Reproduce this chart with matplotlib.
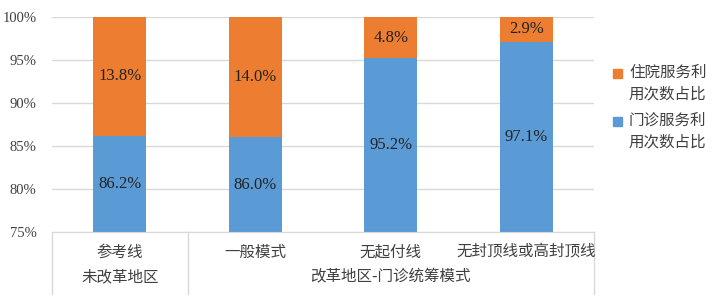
import matplotlib.pyplot as plt
import numpy as np
from matplotlib.patches import Rectangle
from matplotlib.transforms import blended_transform_factory

plt.rcParams["font.family"] = ["Liberation Serif", "Noto Sans CJK SC", "DejaVu Sans"]

categories = ["参考线", "一般模式", "无起付线", "无封顶线或高封顶线"]
groups = ["未改革地区", "改革地区-门诊统筹模式"]
group_sizes = [1, 3]
outpatient = [86.2, 86.0, 95.2, 97.1]
inpatient = [13.8, 14.0, 4.8, 2.9]
series_names = ["住院服务利\n用次数占比", "门诊服务利\n用次数占比"]
y_ticks = [75, 80, 85, 90, 95, 100]

BLUE = "#5B9BD5"
ORANGE = "#ED7D31"
GRID = "#D9D9D9"
TEXT = "#404040"
CJK = ["Noto Sans CJK SC", "DejaVu Sans"]
W, H = 728, 307

fig = plt.figure(figsize=(W / 100, H / 100), dpi=100)
ax = fig.add_axes([52 / W, 75 / H, 542 / W, 215 / H])

x = np.arange(len(categories))
ax.bar(x, outpatient, width=0.39, color=BLUE, zorder=2)
ax.bar(x, inpatient, width=0.39, color=ORANGE, bottom=outpatient, zorder=2)

ax.set_ylim(75, 100)
ax.set_xlim(-0.5, len(categories) - 0.5)
ax.set_yticks(y_ticks)
ax.set_yticklabels([f"{t}%" for t in y_ticks], fontsize=10.5, color=TEXT)
ax.tick_params(axis="y", length=0, pad=11)
ax.set_xticks([])
ax.grid(True, axis="y", color=GRID, linewidth=1, zorder=0)
for side in ("top", "right", "left"):
    ax.spines[side].set_visible(False)
ax.spines["bottom"].set_color(GRID)

# data labels, centred on the visible part of each segment
for i in x:
    ax.text(i, (75 + outpatient[i]) / 2, f"{outpatient[i]:.1f}%", ha="center",
            va="center", fontsize=12, color="#222222", zorder=3)
    top = outpatient[i] + inpatient[i]
    ax.text(i, (outpatient[i] + top) / 2, f"{inpatient[i]:.1f}%", ha="center",
            va="center", fontsize=12, color="#222222", zorder=3)

# two-level category axis
trans = blended_transform_factory(ax.transData, ax.transAxes)
axis_h = 215
for i, name in enumerate(categories):
    ax.text(i, -20 / axis_h, name, transform=trans, ha="center", va="center",
            fontsize=11.2, color=TEXT, family=CJK)
start = 0
bounds = [-0.5]
for g, n in zip(groups, group_sizes):
    center = start + (n - 1) / 2
    ax.text(center, -45 / axis_h, g, transform=trans, ha="center", va="center",
            fontsize=11.2, color=TEXT, family=CJK)
    start += n
    bounds.append(start - 0.5)
for b in bounds:
    ax.plot([b, b], [0, -62 / axis_h], transform=trans, color=GRID,
            linewidth=1, clip_on=False)

# legend: square aligned with the first line of each two-line label
for name, color, y0 in zip(series_names, [ORANGE, BLUE], [73, 121]):
    fig.patches.append(Rectangle((613 / W, 1 - (y0 + 4.5) / H), 9 / W, 9 / H,
                                 transform=fig.transFigure, color=color))
    fig.text(629 / W, 1 - (y0 - 9) / H, name, ha="left", va="top",
             fontsize=11.2, color=TEXT, family=CJK, linespacing=1.35)

fig.savefig("out.png", dpi=100)
